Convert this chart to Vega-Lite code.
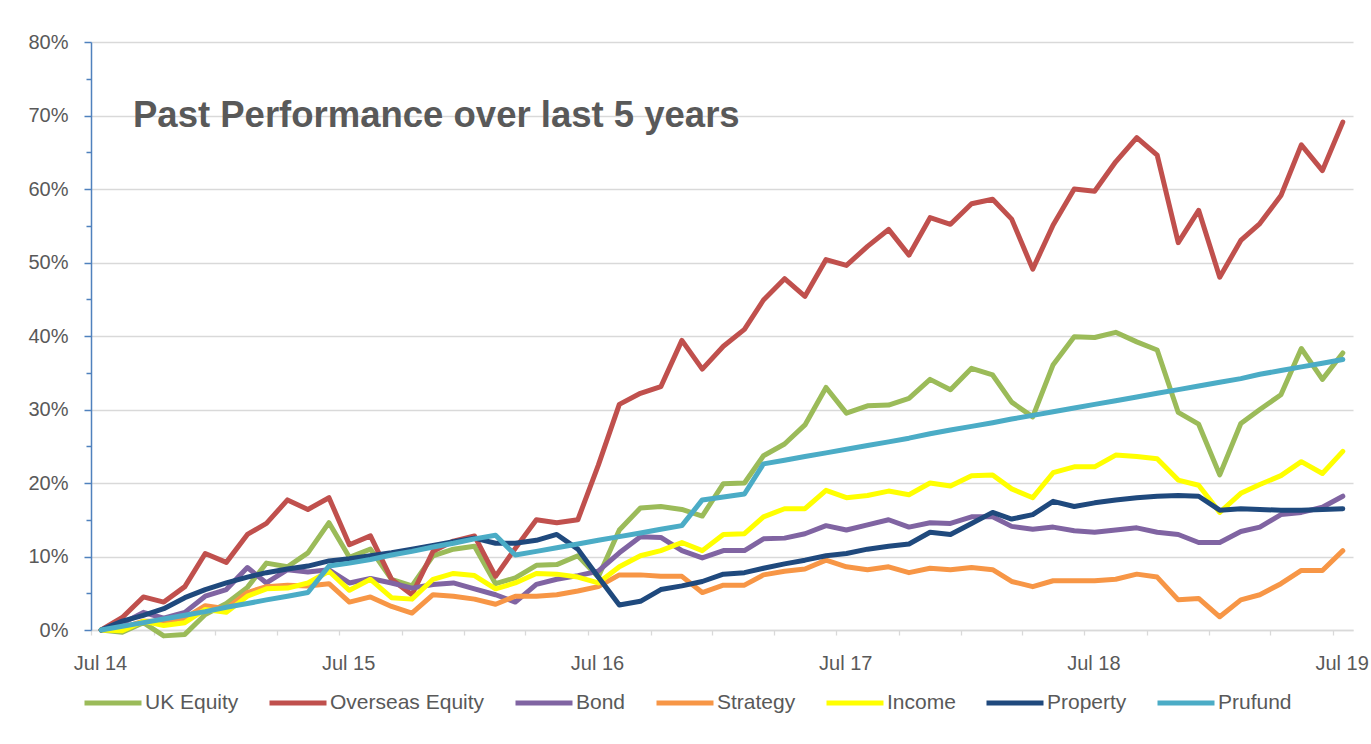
{
  "$schema": "https://vega.github.io/schema/vega-lite/v6.json",
  "autosize": {"type": "none"},
  "width": 1262,
  "height": 588,
  "padding": {"left": 91, "top": 42, "right": 18, "bottom": 114},
  "background": "white",
  "config": {"view": {"stroke": null}, "font": "Liberation Sans"},
  "title": {"text": "Past Performance over last 5 years", "anchor": "start", "frame": "group", "orient": "top", "offset": 0, "dx": 42, "dy": 131, "fontSize": 36.5, "fontWeight": "bold", "color": "#595959", "font": "Liberation Sans", "baseline": "alphabetic"},
  "data": {"values": [
    {"date": "2014-07-01", "UK Equity": 0, "Overseas Equity": 0, "Bond": 0, "Strategy": 0, "Income": 0, "Property": 0, "Prufund": 0},
    {"date": "2014-08-01", "UK Equity": -0.3, "Overseas Equity": 1.7, "Bond": 0.9, "Strategy": 0.3, "Income": -0.1, "Property": 1.2, "Prufund": 0.5},
    {"date": "2014-09-01", "UK Equity": 1.0, "Overseas Equity": 4.5, "Bond": 2.4, "Strategy": 1.2, "Income": 1.2, "Property": 2.0, "Prufund": 1.0},
    {"date": "2014-10-01", "UK Equity": -0.8, "Overseas Equity": 3.8, "Bond": 1.6, "Strategy": 1.2, "Income": 0.6, "Property": 2.9, "Prufund": 1.5},
    {"date": "2014-11-01", "UK Equity": -0.6, "Overseas Equity": 5.9, "Bond": 2.4, "Strategy": 1.6, "Income": 1.0, "Property": 4.4, "Prufund": 2.0},
    {"date": "2014-12-01", "UK Equity": 2.1, "Overseas Equity": 10.4, "Bond": 4.6, "Strategy": 3.3, "Income": 2.8, "Property": 5.5, "Prufund": 2.5},
    {"date": "2015-01-01", "UK Equity": 3.6, "Overseas Equity": 9.2, "Bond": 5.5, "Strategy": 2.9, "Income": 2.4, "Property": 6.4, "Prufund": 3.1},
    {"date": "2015-02-01", "UK Equity": 5.8, "Overseas Equity": 13.0, "Bond": 8.5, "Strategy": 5.1, "Income": 4.6, "Property": 7.2, "Prufund": 3.6},
    {"date": "2015-03-01", "UK Equity": 9.1, "Overseas Equity": 14.5, "Bond": 6.4, "Strategy": 5.9, "Income": 5.6, "Property": 7.8, "Prufund": 4.1},
    {"date": "2015-04-01", "UK Equity": 8.6, "Overseas Equity": 17.7, "Bond": 8.2, "Strategy": 6.1, "Income": 5.7, "Property": 8.3, "Prufund": 4.6},
    {"date": "2015-05-01", "UK Equity": 10.5, "Overseas Equity": 16.4, "Bond": 7.9, "Strategy": 6.0, "Income": 6.4, "Property": 8.7, "Prufund": 5.1},
    {"date": "2015-06-01", "UK Equity": 14.6, "Overseas Equity": 18.0, "Bond": 8.2, "Strategy": 6.3, "Income": 8.0, "Property": 9.4, "Prufund": 8.7},
    {"date": "2015-07-01", "UK Equity": 9.9, "Overseas Equity": 11.6, "Bond": 6.4, "Strategy": 3.8, "Income": 5.4, "Property": 9.7, "Prufund": 9.1},
    {"date": "2015-08-01", "UK Equity": 11.0, "Overseas Equity": 12.8, "Bond": 7.0, "Strategy": 4.5, "Income": 6.9, "Property": 10.1, "Prufund": 9.6},
    {"date": "2015-09-01", "UK Equity": 6.9, "Overseas Equity": 6.9, "Bond": 6.4, "Strategy": 3.2, "Income": 4.4, "Property": 10.5, "Prufund": 10.2},
    {"date": "2015-10-01", "UK Equity": 6.0, "Overseas Equity": 4.8, "Bond": 5.7, "Strategy": 2.3, "Income": 4.2, "Property": 11.0, "Prufund": 10.7},
    {"date": "2015-11-01", "UK Equity": 10.1, "Overseas Equity": 10.7, "Bond": 6.2, "Strategy": 4.8, "Income": 6.9, "Property": 11.5, "Prufund": 11.3},
    {"date": "2015-12-01", "UK Equity": 11.0, "Overseas Equity": 12.1, "Bond": 6.4, "Strategy": 4.6, "Income": 7.7, "Property": 12.0, "Prufund": 11.8},
    {"date": "2016-01-01", "UK Equity": 11.4, "Overseas Equity": 12.8, "Bond": 5.6, "Strategy": 4.2, "Income": 7.4, "Property": 12.5, "Prufund": 12.4},
    {"date": "2016-02-01", "UK Equity": 6.3, "Overseas Equity": 7.3, "Bond": 4.8, "Strategy": 3.5, "Income": 5.6, "Property": 11.8, "Prufund": 12.9},
    {"date": "2016-03-01", "UK Equity": 7.1, "Overseas Equity": 11.1, "Bond": 3.8, "Strategy": 4.6, "Income": 6.4, "Property": 11.8, "Prufund": 10.2},
    {"date": "2016-04-01", "UK Equity": 8.8, "Overseas Equity": 15.0, "Bond": 6.2, "Strategy": 4.6, "Income": 7.7, "Property": 12.2, "Prufund": 10.7},
    {"date": "2016-05-01", "UK Equity": 8.9, "Overseas Equity": 14.6, "Bond": 6.9, "Strategy": 4.8, "Income": 7.6, "Property": 13.0, "Prufund": 11.2},
    {"date": "2016-06-01", "UK Equity": 10.1, "Overseas Equity": 15.0, "Bond": 7.4, "Strategy": 5.3, "Income": 7.2, "Property": 11.0, "Prufund": 11.7},
    {"date": "2016-07-01", "UK Equity": 7.2, "Overseas Equity": 22.4, "Bond": 8.0, "Strategy": 5.9, "Income": 6.4, "Property": 7.2, "Prufund": 12.2},
    {"date": "2016-08-01", "UK Equity": 13.6, "Overseas Equity": 30.7, "Bond": 10.5, "Strategy": 7.5, "Income": 8.6, "Property": 3.4, "Prufund": 12.7},
    {"date": "2016-09-01", "UK Equity": 16.6, "Overseas Equity": 32.2, "Bond": 12.7, "Strategy": 7.5, "Income": 10.1, "Property": 3.9, "Prufund": 13.2},
    {"date": "2016-10-01", "UK Equity": 16.8, "Overseas Equity": 33.1, "Bond": 12.6, "Strategy": 7.3, "Income": 10.8, "Property": 5.5, "Prufund": 13.7},
    {"date": "2016-11-01", "UK Equity": 16.4, "Overseas Equity": 39.4, "Bond": 10.8, "Strategy": 7.3, "Income": 11.9, "Property": 6.0, "Prufund": 14.2},
    {"date": "2016-12-01", "UK Equity": 15.5, "Overseas Equity": 35.5, "Bond": 9.8, "Strategy": 5.1, "Income": 10.8, "Property": 6.6, "Prufund": 17.7},
    {"date": "2017-01-01", "UK Equity": 19.9, "Overseas Equity": 38.6, "Bond": 10.8, "Strategy": 6.1, "Income": 13.0, "Property": 7.6, "Prufund": 18.1},
    {"date": "2017-02-01", "UK Equity": 20.0, "Overseas Equity": 40.9, "Bond": 10.8, "Strategy": 6.1, "Income": 13.1, "Property": 7.8, "Prufund": 18.5},
    {"date": "2017-03-01", "UK Equity": 23.7, "Overseas Equity": 44.9, "Bond": 12.4, "Strategy": 7.5, "Income": 15.4, "Property": 8.4, "Prufund": 22.6},
    {"date": "2017-04-01", "UK Equity": 25.3, "Overseas Equity": 47.8, "Bond": 12.5, "Strategy": 8.0, "Income": 16.5, "Property": 9.0, "Prufund": 23.1},
    {"date": "2017-05-01", "UK Equity": 27.9, "Overseas Equity": 45.4, "Bond": 13.1, "Strategy": 8.3, "Income": 16.5, "Property": 9.5, "Prufund": 23.6},
    {"date": "2017-06-01", "UK Equity": 33.0, "Overseas Equity": 50.4, "Bond": 14.2, "Strategy": 9.5, "Income": 19.0, "Property": 10.1, "Prufund": 24.1},
    {"date": "2017-07-01", "UK Equity": 29.5, "Overseas Equity": 49.6, "Bond": 13.6, "Strategy": 8.6, "Income": 18.0, "Property": 10.4, "Prufund": 24.6},
    {"date": "2017-08-01", "UK Equity": 30.5, "Overseas Equity": 52.2, "Bond": 14.3, "Strategy": 8.2, "Income": 18.3, "Property": 11.0, "Prufund": 25.1},
    {"date": "2017-09-01", "UK Equity": 30.6, "Overseas Equity": 54.5, "Bond": 15.0, "Strategy": 8.6, "Income": 18.9, "Property": 11.4, "Prufund": 25.6},
    {"date": "2017-10-01", "UK Equity": 31.5, "Overseas Equity": 51.0, "Bond": 14.0, "Strategy": 7.8, "Income": 18.4, "Property": 11.7, "Prufund": 26.1},
    {"date": "2017-11-01", "UK Equity": 34.1, "Overseas Equity": 56.1, "Bond": 14.6, "Strategy": 8.4, "Income": 20.0, "Property": 13.3, "Prufund": 26.7},
    {"date": "2017-12-01", "UK Equity": 32.7, "Overseas Equity": 55.2, "Bond": 14.5, "Strategy": 8.2, "Income": 19.6, "Property": 13.0, "Prufund": 27.2},
    {"date": "2018-01-01", "UK Equity": 35.6, "Overseas Equity": 58.0, "Bond": 15.4, "Strategy": 8.5, "Income": 21.0, "Property": 14.5, "Prufund": 27.7},
    {"date": "2018-02-01", "UK Equity": 34.7, "Overseas Equity": 58.6, "Bond": 15.4, "Strategy": 8.2, "Income": 21.1, "Property": 16.0, "Prufund": 28.2},
    {"date": "2018-03-01", "UK Equity": 31.0, "Overseas Equity": 55.9, "Bond": 14.1, "Strategy": 6.6, "Income": 19.2, "Property": 15.1, "Prufund": 28.7},
    {"date": "2018-04-01", "UK Equity": 29.0, "Overseas Equity": 49.1, "Bond": 13.7, "Strategy": 5.9, "Income": 18.0, "Property": 15.7, "Prufund": 29.2},
    {"date": "2018-05-01", "UK Equity": 36.1, "Overseas Equity": 55.1, "Bond": 14.0, "Strategy": 6.7, "Income": 21.4, "Property": 17.5, "Prufund": 29.7},
    {"date": "2018-06-01", "UK Equity": 39.9, "Overseas Equity": 60.0, "Bond": 13.5, "Strategy": 6.7, "Income": 22.2, "Property": 16.8, "Prufund": 30.2},
    {"date": "2018-07-01", "UK Equity": 39.8, "Overseas Equity": 59.7, "Bond": 13.3, "Strategy": 6.7, "Income": 22.2, "Property": 17.3, "Prufund": 30.7},
    {"date": "2018-08-01", "UK Equity": 40.5, "Overseas Equity": 63.7, "Bond": 13.6, "Strategy": 6.9, "Income": 23.8, "Property": 17.7, "Prufund": 31.2},
    {"date": "2018-09-01", "UK Equity": 39.2, "Overseas Equity": 67.0, "Bond": 13.9, "Strategy": 7.6, "Income": 23.6, "Property": 18.0, "Prufund": 31.7},
    {"date": "2018-10-01", "UK Equity": 38.1, "Overseas Equity": 64.6, "Bond": 13.3, "Strategy": 7.2, "Income": 23.3, "Property": 18.2, "Prufund": 32.2},
    {"date": "2018-11-01", "UK Equity": 29.6, "Overseas Equity": 52.7, "Bond": 13.0, "Strategy": 4.1, "Income": 20.4, "Property": 18.3, "Prufund": 32.7},
    {"date": "2018-12-01", "UK Equity": 28.0, "Overseas Equity": 57.1, "Bond": 11.9, "Strategy": 4.3, "Income": 19.7, "Property": 18.2, "Prufund": 33.2},
    {"date": "2019-01-01", "UK Equity": 21.1, "Overseas Equity": 48.0, "Bond": 11.9, "Strategy": 1.8, "Income": 16.0, "Property": 16.3, "Prufund": 33.7},
    {"date": "2019-02-01", "UK Equity": 28.1, "Overseas Equity": 53.0, "Bond": 13.4, "Strategy": 4.1, "Income": 18.6, "Property": 16.5, "Prufund": 34.2},
    {"date": "2019-03-01", "UK Equity": 30.0, "Overseas Equity": 55.3, "Bond": 14.0, "Strategy": 4.8, "Income": 19.8, "Property": 16.4, "Prufund": 34.8},
    {"date": "2019-04-01", "UK Equity": 32.0, "Overseas Equity": 59.1, "Bond": 15.7, "Strategy": 6.3, "Income": 21.0, "Property": 16.3, "Prufund": 35.3},
    {"date": "2019-05-01", "UK Equity": 38.3, "Overseas Equity": 66.0, "Bond": 16.0, "Strategy": 8.1, "Income": 22.9, "Property": 16.3, "Prufund": 35.8},
    {"date": "2019-06-01", "UK Equity": 34.1, "Overseas Equity": 62.5, "Bond": 16.7, "Strategy": 8.1, "Income": 21.3, "Property": 16.4, "Prufund": 36.3},
    {"date": "2019-07-01", "UK Equity": 37.7, "Overseas Equity": 69.1, "Bond": 18.2, "Strategy": 10.8, "Income": 24.3, "Property": 16.5, "Prufund": 36.8}
  ]},
  "transform": [
    {"fold": ["UK Equity", "Overseas Equity", "Bond", "Strategy", "Income", "Property", "Prufund"], "as": ["series", "value"]}
  ],
  "mark": {"type": "line", "strokeWidth": 5, "strokeJoin": "round", "strokeCap": "round", "clip": false},
  "encoding": {
    "x": {
      "field": "date", "type": "temporal",
      "scale": {"type": "utc", "domain": [{"year": 2014, "month": 6, "date": 16, "utc": true}, {"year": 2019, "month": 7, "date": 16, "utc": true}]},
      "axis": {
        "title": null,
        "grid": false,
        "values": [
          {"year": 2014, "month": 6, "date": 16, "utc": true}, {"year": 2014, "month": 9, "date": 16, "utc": true}, {"year": 2014, "month": 12, "date": 16, "utc": true},
          {"year": 2015, "month": 3, "date": 16, "utc": true}, {"year": 2015, "month": 6, "date": 16, "utc": true}, {"year": 2015, "month": 9, "date": 16, "utc": true}, {"year": 2015, "month": 12, "date": 16, "utc": true},
          {"year": 2016, "month": 3, "date": 16, "utc": true}, {"year": 2016, "month": 6, "date": 16, "utc": true}, {"year": 2016, "month": 9, "date": 16, "utc": true}, {"year": 2016, "month": 12, "date": 16, "utc": true},
          {"year": 2017, "month": 3, "date": 16, "utc": true}, {"year": 2017, "month": 6, "date": 16, "utc": true}, {"year": 2017, "month": 9, "date": 16, "utc": true}, {"year": 2017, "month": 12, "date": 16, "utc": true},
          {"year": 2018, "month": 3, "date": 16, "utc": true}, {"year": 2018, "month": 6, "date": 16, "utc": true}, {"year": 2018, "month": 9, "date": 16, "utc": true}, {"year": 2018, "month": 12, "date": 16, "utc": true},
          {"year": 2019, "month": 3, "date": 16, "utc": true}, {"year": 2019, "month": 6, "date": 16, "utc": true}
        ],
        "labelExpr": "utcmonth(datum.value) == 5 ? 'Jul ' + (utcyear(datum.value) % 100) : ''",
        "labelOffset": 9,
        "labelFont": "Liberation Sans", "labelFontSize": 20, "labelColor": "#595959",
        "labelPadding": 18, "labelOverlap": false, "labelFlush": false, "labelBound": false,
        "tickSize": 5, "tickColor": "#D9D9D9", "tickWidth": 1.3,
        "domainColor": "#D9D9D9", "domainWidth": 1.3
      }
    },
    "y": {
      "field": "value", "type": "quantitative",
      "scale": {"domain": [0, 80], "nice": false},
      "axis": {
        "title": null,
        "values": [0, 5, 10, 15, 20, 25, 30, 35, 40, 45, 50, 55, 60, 65, 70, 75, 80],
        "labelExpr": "datum.value % 10 == 0 ? datum.value + '%' : ''",
        "grid": true, "gridColor": "#D9D9D9", "gridWidth": 1.3,
        "gridOpacity": {"condition": {"test": "datum.value % 10 == 0", "value": 1}, "value": 0},
        "tickSize": {"condition": {"test": "datum.value % 10 == 0", "value": 7}, "value": 5},
        "tickColor": "#4F81BD", "tickWidth": 1.5,
        "domainColor": "#4F81BD", "domainWidth": 1.5,
        "labelFont": "Liberation Sans", "labelFontSize": 20, "labelColor": "#595959",
        "labelPadding": 16, "labelOverlap": false
      }
    },
    "color": {
      "field": "series", "type": "nominal",
      "scale": {"domain": ["UK Equity", "Overseas Equity", "Bond", "Strategy", "Income", "Property", "Prufund"], "range": ["#9BBB59", "#C0504D", "#8064A2", "#F79646", "#FFFF00", "#1F497D", "#4BACC6"]},
      "legend": {
        "title": null, "orient": "none", "direction": "horizontal", "legendX": -9, "legendY": 630,
        "symbolType": "stroke", "symbolSize": 3249, "symbolStrokeWidth": 5,
        "labelFont": "Liberation Sans", "labelFontSize": 21, "labelColor": "#595959",
        "labelOffset": 1, "columnPadding": 20, "labelLimit": 400
      }
    }
  }
}
